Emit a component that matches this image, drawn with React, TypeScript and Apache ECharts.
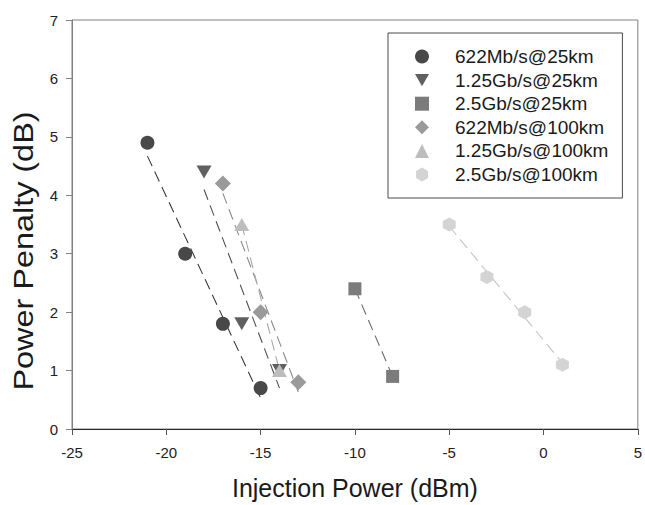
import React, { useEffect, useRef } from "react";
import * as echarts from "echarts";

const seriesNames = [
  "622Mb/s@25km",
  "1.25Gb/s@25km",
  "2.5Gb/s@25km",
  "622Mb/s@100km",
  "1.25Gb/s@100km",
  "2.5Gb/s@100km",
];

const x622_25 = [-21, -19, -17, -15];
const y622_25 = [4.9, 3.0, 1.8, 0.7];
const x125_25 = [-18, -16, -14];
const y125_25 = [4.4, 1.8, 1.0];
const x25_25 = [-10, -8];
const y25_25 = [2.4, 0.9];
const x622_100 = [-17, -15, -13];
const y622_100 = [4.2, 2.0, 0.8];
const x125_100 = [-16, -14];
const y125_100 = [3.5, 1.0];
const x25_100 = [-5, -3, -1, 1];
const y25_100 = [3.5, 2.6, 2.0, 1.1];

const xTicks = [-25, -20, -15, -10, -5, 0, 5];
const yTicks = [0, 1, 2, 3, 4, 5, 6, 7];

const TRI_DOWN = "path://M0,0 L100,0 L50,86.6 Z";
const HEXAGON = "path://M50,0 L93.3,25 L93.3,75 L50,100 L6.7,75 L6.7,25 Z";

const seriesDefs = [
  { xs: x622_25, ys: y622_25, symbol: "circle", size: 14, color: "#484848", line: "#3a3a3a" },
  { xs: x125_25, ys: y125_25, symbol: TRI_DOWN, size: [15, 13], color: "#606060", line: "#505050" },
  { xs: x25_25, ys: y25_25, symbol: "rect", size: 13, color: "#7b7b7b", line: "#6a6a6a" },
  { xs: x622_100, ys: y622_100, symbol: "diamond", size: [16, 16], color: "#9a9a9a", line: "#8a8a8a" },
  { xs: x125_100, ys: y125_100, symbol: "triangle", size: [15, 13], color: "#bdbdbd", line: "#aaaaaa" },
  { xs: x25_100, ys: y25_100, symbol: HEXAGON, size: [13, 14], color: "#d4d4d4", line: "#c4c4c4" },
];

function fitLine(xs: number[], ys: number[]) {
  const n = xs.length;
  const mx = xs.reduce((a, b) => a + b, 0) / n;
  const my = ys.reduce((a, b) => a + b, 0) / n;
  let sxy = 0;
  let sxx = 0;
  for (let i = 0; i < n; i++) {
    sxy += (xs[i] - mx) * (ys[i] - my);
    sxx += (xs[i] - mx) * (xs[i] - mx);
  }
  const b = sxy / sxx;
  const a = my - b * mx;
  const x0 = Math.min(...xs);
  const x1 = Math.max(...xs);
  return [
    [x0, a + b * x0],
    [x1, a + b * x1],
  ];
}

const FONT = "Liberation Sans";

export default function App() {
  const ref = useRef<HTMLDivElement>(null);
  useEffect(() => {
    if (!ref.current) return;
    const chart = echarts.init(ref.current, null, { renderer: "svg" });

    const lineSeries = seriesDefs.map((d, i) => ({
      type: "line",
      name: "fit " + seriesNames[i],
      data: fitLine(d.xs, d.ys),
      symbol: "none",
      silent: true,
      z: 1,
      lineStyle: { color: d.line, width: 1.1, type: [11, 6] },
    }));

    const scatterSeries = seriesDefs.map((d, i) => ({
      type: "scatter",
      name: seriesNames[i],
      data: d.xs.map((x, j) => [x, d.ys[j]]),
      symbol: d.symbol,
      symbolSize: d.size,
      z: 3,
      itemStyle: { color: d.color, opacity: 1 },
    }));

    chart.setOption({
      animation: false,
      backgroundColor: "#ffffff",
      grid: {
        left: 72,
        right: 3,
        top: 20,
        bottom: 75,
        show: true,
        borderColor: "#808080",
        borderWidth: 1,
      },
      xAxis: {
        type: "value",
        min: xTicks[0],
        max: xTicks[xTicks.length - 1],
        interval: 5,
        name: "Injection Power (dBm)",
        nameLocation: "middle",
        nameGap: 46,
        nameTextStyle: { fontSize: 25, color: "#1a1a1a", fontFamily: FONT },
        axisLine: { show: true, onZero: false, lineStyle: { color: "#2a2a2a", width: 1 } },
        axisTick: { show: true, inside: false, length: 6, lineStyle: { color: "#555" } },
        axisLabel: { fontSize: 15, color: "#222", fontFamily: FONT, margin: 16 },
        splitLine: { show: false },
      },
      yAxis: {
        type: "value",
        min: yTicks[0],
        max: yTicks[yTicks.length - 1],
        interval: 1,
        axisLine: { show: true, onZero: false, lineStyle: { color: "#808080", width: 1 } },
        axisTick: { show: true, inside: false, length: 6, lineStyle: { color: "#808080" } },
        axisLabel: { fontSize: 15, color: "#222", fontFamily: FONT, margin: 14 },
        splitLine: { show: false },
      },
      legend: {
        orient: "vertical",
        left: 388,
        top: 33,
        padding: [14, 14, 14, 27],
        itemGap: 4.6,
        itemWidth: 14,
        itemHeight: 14,
        selectedMode: false,
        borderColor: "#4a4a4a",
        borderWidth: 1,
        backgroundColor: "#ffffff",
        data: seriesNames.map((n, i) => ({ name: n, icon: seriesDefs[i].symbol })),
        textStyle: {
          fontSize: 19,
          lineHeight: 14,
          color: "#1a1a1a",
          fontFamily: FONT,
          padding: [0, 0, 0, 21],
        },
      },
      graphic: [
        {
          type: "text",
          x: 23,
          y: 251,
          rotation: Math.PI / 2,
          scaleX: 1.2,
          style: {
            text: "Power Penalty (dB)",
            fontSize: 27,
            fontFamily: FONT,
            fill: "#1a1a1a",
            align: "center",
            verticalAlign: "middle",
          },
        },
      ],
      series: [...lineSeries, ...scatterSeries],
    });

    return () => chart.dispose();
  }, []);

  return (
    <div
      ref={ref}
      style={{ position: "fixed", left: 0, top: 0, width: 645, height: 505 }}
    />
  );
}
